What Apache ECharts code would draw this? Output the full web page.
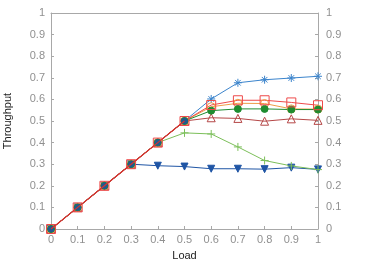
<!DOCTYPE html>
<html><head><meta charset="utf-8">
<script src="https://cdn.jsdelivr.net/npm/echarts@6/dist/echarts.min.js"></script>
<style>html,body{margin:0;padding:0;background:#fff}#c{width:374px;height:262px}</style>
</head><body><div id="c"></div>
<script>
const loads = [0, 0.1, 0.2, 0.3, 0.4, 0.5, 0.6, 0.7, 0.8, 0.9, 1.0];
const seriesStar     = [0, 0.1, 0.2, 0.3, 0.4, 0.5, 0.602, 0.677, 0.691, 0.699, 0.707];
const seriesSquare   = [0, 0.1, 0.2, 0.3, 0.4, 0.5, 0.574, 0.596, 0.596, 0.586, 0.573];
const seriesOCircle  = [0, 0.1, 0.2, 0.3, 0.4, 0.5, 0.566, 0.582, 0.581, 0.556, 0.555];
const seriesGCircle  = [0, 0.1, 0.2, 0.3, 0.4, 0.5, 0.548, 0.556, 0.556, 0.553, 0.553];
const seriesTriangle = [0, 0.1, 0.2, 0.3, 0.4, 0.5, 0.515, 0.512, 0.499, 0.510, 0.503];
const seriesPlus     = [0, 0.1, 0.2, 0.3, 0.4, 0.445, 0.440, 0.380, 0.317, 0.292, 0.275];
const seriesDown     = [0, 0.1, 0.2, 0.3, 0.293, 0.289, 0.279, 0.279, 0.277, 0.284, 0.276];
const yTicks = [0, 0.1, 0.2, 0.3, 0.4, 0.5, 0.6, 0.7, 0.8, 0.9, 1];

const pair = arr => arr.map((v, i) => [loads[i], v]);
const STAR = 'path://M0,5L10,5M5,0L5,10M1.5,1.5L8.5,8.5M8.5,1.5L1.5,8.5';
const PLUS = 'path://M0,5L10,5M5,0L5,10';

function mk(data, color, symbol, size, filled, extra) {
  return Object.assign({
    type: 'line', data: pair(data), symbol: symbol, symbolSize: size,
    lineStyle: {color: color, width: 1},
    itemStyle: {color: filled ? color : 'rgba(0,0,0,0)', borderColor: color, borderWidth: 1},
    emphasis: {disabled: true}, animation: false
  }, extra || {});
}

const fmt = v => { const t = yTicks.find(t => Math.abs(t - v) < 1e-6); return String(t === undefined ? v : t); };
const axisCommon = {
  type: 'value', min: 0, max: 1, interval: 0.1,
  axisLine: {show: true, onZero: false, lineStyle: {color: '#a8a8a8', width: 1}},
  axisTick: {show: true, inside: true, length: 3, lineStyle: {color: '#a8a8a8'}},
  splitLine: {show: false},
  axisLabel: {color: '#909090', fontSize: 11, fontFamily: 'Liberation Sans', formatter: fmt}
};

const shared = seriesStar.slice(0, 6);

const chart = echarts.init(document.getElementById('c'), null, {renderer: 'canvas'});
chart.setOption({
  backgroundColor: '#fff',
  grid: {left: 51, right: 56, top: 13, bottom: 33, containLabel: false, outerBoundsMode: 'none'},
  xAxis: [
    Object.assign({}, axisCommon, {position: 'bottom', name: 'Load', nameLocation: 'middle', nameGap: 21,
      nameTextStyle: {color: '#222', fontSize: 11, fontFamily: 'Liberation Sans'},
      axisLabel: Object.assign({}, axisCommon.axisLabel, {margin: 5})}),
    Object.assign({}, axisCommon, {position: 'top', axisLabel: {show: false}, axisTick: {show: false}})
  ],
  yAxis: [
    Object.assign({}, axisCommon, {position: 'left', name: 'Throughput', nameLocation: 'middle', nameGap: 38,
      nameTextStyle: {color: '#222', fontSize: 11, fontFamily: 'Liberation Sans'},
      axisLabel: Object.assign({}, axisCommon.axisLabel, {margin: 6})}),
    Object.assign({}, axisCommon, {position: 'right',
      axisLabel: Object.assign({}, axisCommon.axisLabel, {margin: 8})})
  ],
  series: [
    mk(seriesDown, '#1f55a5', 'triangle', 7, true, {symbolRotate: 180}),
    mk(seriesPlus, '#7cbf5a', PLUS, 8, false),
    mk(seriesStar, '#3b84cc', STAR, 8, false),
    mk(seriesTriangle, '#b54747', 'triangle', 8, false),
    mk(seriesOCircle, '#ef9d48', 'circle', 8, false),
    mk(seriesGCircle, '#1e8c30', 'circle', 7, true),
    mk(seriesSquare, '#ee4a4a', 'rect', 9, false),
    mk(shared, '#d93030', 'none', 0, false, {lineStyle: {color: '#d93030', width: 1.2}, z: 5}),
    mk(shared, '#1f5a8f', 'circle', 6, true, {lineStyle: {width: 0, opacity: 0}, z: 4})
  ]
});
</script></body></html>
